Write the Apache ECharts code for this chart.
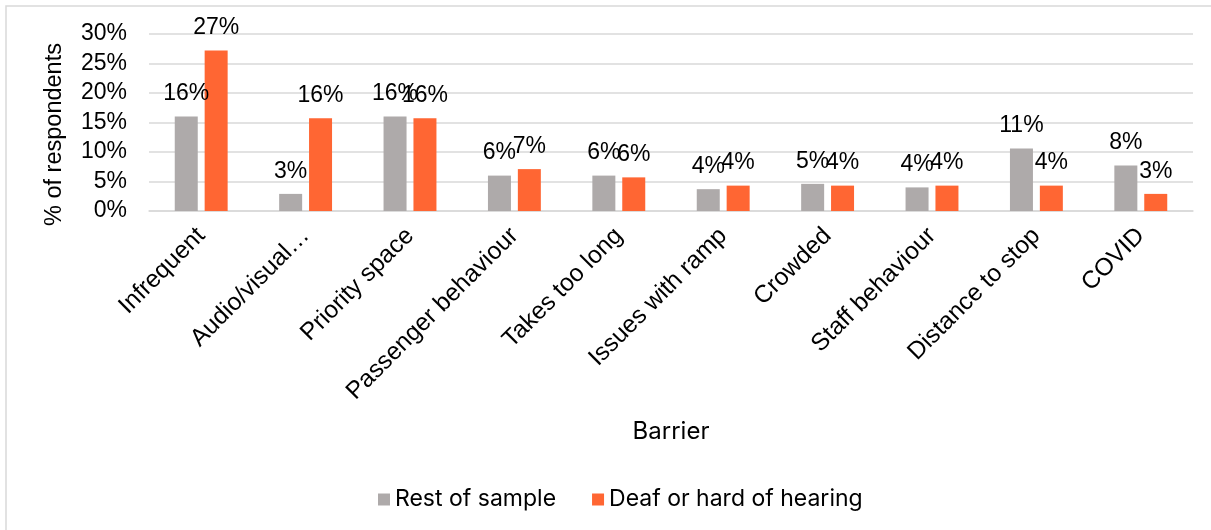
<!DOCTYPE html>
<html>
<head>
<meta charset="utf-8">
<script src="https://cdn.jsdelivr.net/npm/echarts@6/dist/echarts.min.js"></script>
<style>
html,body{margin:0;padding:0;background:#fff;}
#chart{width:1211px;height:530px;}
</style>
</head>
<body>
<div id="chart"></div>
<script>
const categories = ["Infrequent", "Audio/visual…", "Priority space", "Passenger behaviour", "Takes too long", "Issues with ramp", "Crowded", "Staff behaviour", "Distance to stop", "COVID"];
const restOfSample = [16.0, 2.9, 16.0, 6.0, 6.0, 3.7, 4.6, 4.0, 10.6, 7.7];
const deafOrHardOfHearing = [27.2, 15.7, 15.7, 7.1, 5.7, 4.3, 4.3, 4.3, 4.3, 2.9];
const seriesNames = ["Rest of sample", "Deaf or hard of hearing"];
const yTicks = { min: 0, max: 30, interval: 5 };

const numFont = '"Liberation Sans", Arial, sans-serif';
const uiFont = 'Inter, "Liberation Sans", sans-serif';

const chart = echarts.init(document.getElementById('chart'), null, { renderer: 'canvas' });

const labelCfg = {
  show: true,
  position: 'top',
  distance: 11,
  color: '#000',
  fontFamily: numFont,
  fontSize: 23,
  formatter: p => Math.round(p.value) + '%'
};

chart.setOption({
  animation: false,
  backgroundColor: '#fff',
  graphic: [{
    type: 'rect',
    shape: { x: 6, y: 6, width: 1230, height: 560 },
    style: { fill: 'none', stroke: '#d9d9d9', lineWidth: 1.5 },
    silent: true, z: -1
  }],
  grid: { left: 149, right: 18, top: 34, bottom: 319, containLabel: false },
  legend: {
    left: 373, top: 483,
    itemWidth: 12, itemHeight: 12, itemGap: 36,
    icon: 'rect',
    textStyle: { fontFamily: uiFont, fontSize: 23, color: '#000' },
    data: seriesNames
  },
  xAxis: {
    type: 'category',
    data: categories,
    name: 'Barrier',
    nameLocation: 'middle',
    nameGap: 209,
    nameTextStyle: { fontFamily: uiFont, fontSize: 24, color: '#000' },
    axisTick: { show: false },
    axisLine: { lineStyle: { color: '#d9d9d9', width: 1.5 } },
    axisLabel: { rotate: 45, interval: 0, margin: 21, fontFamily: numFont, fontSize: 24.5, color: '#000' }
  },
  yAxis: {
    type: 'value',
    min: yTicks.min, max: yTicks.max, interval: yTicks.interval,
    name: '% of respondents',
    nameLocation: 'middle',
    nameGap: 82,
    nameTextStyle: { fontFamily: numFont, fontSize: 23.5, color: '#000', padding: [0, 24, 0, 0] },
    axisLine: { show: false },
    axisTick: { show: false },
    splitLine: { lineStyle: { color: '#d9d9d9', width: 1.5 } },
    axisLabel: { formatter: '{value}%', margin: 22, fontFamily: numFont, fontSize: 23, color: '#000' }
  },
  series: [
    {
      name: seriesNames[0], type: 'bar', data: restOfSample,
      barWidth: 23, barGap: '30%',
      itemStyle: { color: '#AEAAAA' },
      label: labelCfg
    },
    {
      name: seriesNames[1], type: 'bar', data: deafOrHardOfHearing,
      barWidth: 23,
      itemStyle: { color: '#FF6633' },
      label: labelCfg
    }
  ]
});
</script>
</body>
</html>
